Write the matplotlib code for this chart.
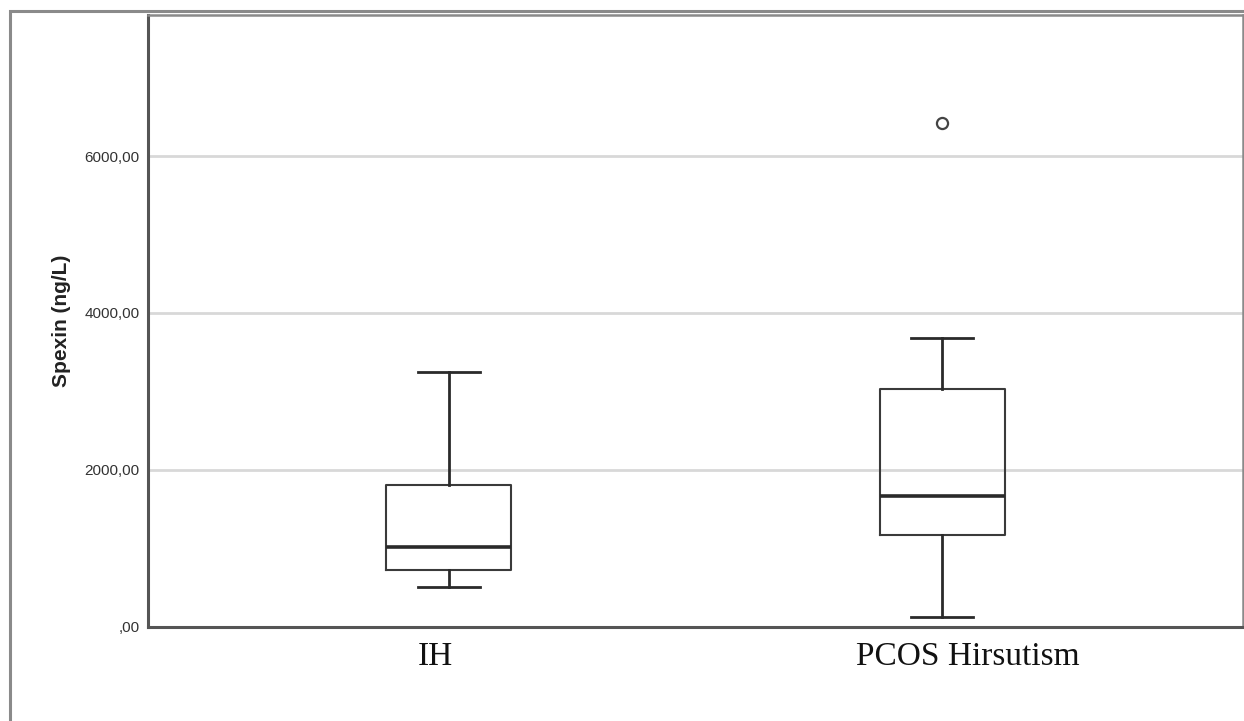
import numpy as np
import matplotlib.pyplot as plt
import matplotlib.transforms as mtransforms
from matplotlib.patches import Rectangle

# data
groups = ["IH", "PCOS Hirsutism"]
whislo = [500, 115]
q1 = [725, 1165]
med = [1020, 1670]
q3 = [1800, 3025]
whishi = [3240, 3680]
outliers = [[], [6420]]
yticks = [0, 2000, 4000, 6000]
ytick_labels = [",00", "2000,00", "4000,00", "6000,00"]

stats = []
for i in range(len(groups)):
    stats.append(dict(label=groups[i], whislo=whislo[i], q1=q1[i], med=med[i],
                      q3=q3[i], whishi=whishi[i], fliers=outliers[i]))

fig = plt.figure(figsize=(12.44, 7.21), dpi=100)

# outer frame of the screenshot
fig.patches.append(Rectangle((10 / 1244, -0.1), 1.2, 1 - 11 / 721 + 0.1,
                             transform=fig.transFigure, fill=False,
                             edgecolor="#8a8a8a", linewidth=2.2))

ax = fig.add_axes([148 / 1244, 1 - 626.5 / 721, (1243 - 148) / 1244, (626.5 - 15) / 721])

ax.bxp(stats, positions=[1, 2], widths=0.2535, showfliers=True,
       boxprops=dict(color="#3a3a3a", linewidth=1.5),
       medianprops=dict(color="#2a2a2a", linewidth=2.6),
       whiskerprops=dict(color="#2a2a2a", linewidth=2.0),
       capprops=dict(color="#2a2a2a", linewidth=2.0),
       flierprops=dict(marker="o", markersize=8, markerfacecolor="white",
                       markeredgecolor="#444444", markeredgewidth=1.6))

ax.set_xlim(0.39, 2.61)
ax.set_ylim(0, 7800)

for y in yticks[1:]:
    ax.axhline(y, color="#d8d8d8", linewidth=2, zorder=0)

ax.set_yticks(yticks)
ax.set_yticklabels(ytick_labels, fontsize=11, color="#333333", family="Liberation Sans")
ax.set_xticks([1, 2])
ax.set_xticklabels(groups, fontsize=24, family="Liberation Serif", color="#111111")
ax.tick_params(axis="y", length=0, pad=6)
ax.tick_params(axis="x", length=0, pad=11)

# category labels in the original sit slightly off the box centres
shifts = [-0.14, 0.26]
for lab, dx in zip(ax.get_xticklabels(), shifts):
    lab.set_transform(lab.get_transform() + mtransforms.ScaledTranslation(dx, 0, fig.dpi_scale_trans))

ax.set_ylabel("Spexin (ng/L)", fontsize=15, fontweight="bold", family="Liberation Sans",
              labelpad=10, color="#222222")

for side in ["left", "bottom"]:
    ax.spines[side].set_color("#555555")
    ax.spines[side].set_linewidth(2.2)
for side in ["top", "right"]:
    ax.spines[side].set_color("#8a8a8a")
    ax.spines[side].set_linewidth(1.8)

fig.savefig("out.png", dpi=100)
